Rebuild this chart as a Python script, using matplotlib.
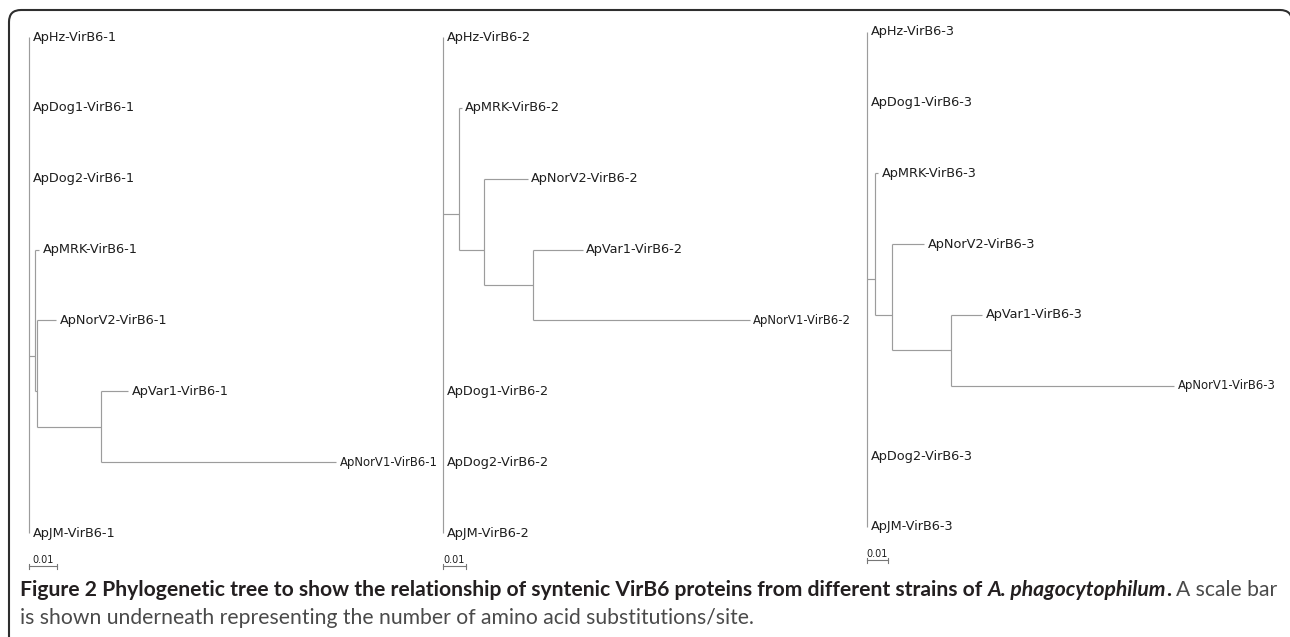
import numpy as np
import matplotlib
matplotlib.use("Agg")
import matplotlib.pyplot as plt
from matplotlib.path import Path
from matplotlib.patches import PathPatch

# ---- data: leaf order (top to bottom) and branches (parent, child, length in subs/site)
TREE1_LEAVES = ["ApHz-VirB6-1", "ApDog1-VirB6-1", "ApDog2-VirB6-1", "ApMRK-VirB6-1",
                "ApNorV2-VirB6-1", "ApVar1-VirB6-1", "ApNorV1-VirB6-1", "ApJM-VirB6-1"]
TREE1_EDGES = [
    ("root", "ApHz-VirB6-1", 0.0),
    ("root", "ApDog1-VirB6-1", 0.0),
    ("root", "ApDog2-VirB6-1", 0.0),
    ("root", "n1", 0.0021),
    ("n1", "ApMRK-VirB6-1", 0.0014),
    ("n1", "n2", 0.0007),
    ("n2", "ApNorV2-VirB6-1", 0.0068),
    ("n2", "n3", 0.0229),
    ("n3", "ApVar1-VirB6-1", 0.0096),
    ("n3", "ApNorV1-VirB6-1", 0.0839),
    ("root", "ApJM-VirB6-1", 0.0),
]

TREE2_LEAVES = ["ApHz-VirB6-2", "ApMRK-VirB6-2", "ApNorV2-VirB6-2", "ApVar1-VirB6-2",
                "ApNorV1-VirB6-2", "ApDog1-VirB6-2", "ApDog2-VirB6-2", "ApJM-VirB6-2"]
TREE2_EDGES = [
    ("root", "ApHz-VirB6-2", 0.0),
    ("root", "n1", 0.0070),
    ("n1", "ApMRK-VirB6-2", 0.0011),
    ("n1", "n2", 0.0109),
    ("n2", "ApNorV2-VirB6-2", 0.0189),
    ("n2", "n3", 0.0213),
    ("n3", "ApVar1-VirB6-2", 0.0215),
    ("n3", "ApNorV1-VirB6-2", 0.0941),
    ("root", "ApDog1-VirB6-2", 0.0),
    ("root", "ApDog2-VirB6-2", 0.0),
    ("root", "ApJM-VirB6-2", 0.0),
]

TREE3_LEAVES = ["ApHz-VirB6-3", "ApDog1-VirB6-3", "ApMRK-VirB6-3", "ApNorV2-VirB6-3",
                "ApVar1-VirB6-3", "ApNorV1-VirB6-3", "ApDog2-VirB6-3", "ApJM-VirB6-3"]
TREE3_EDGES = [
    ("root", "ApHz-VirB6-3", 0.0),
    ("root", "ApDog1-VirB6-3", 0.0),
    ("root", "n1", 0.0038),
    ("n1", "ApMRK-VirB6-3", 0.0014),
    ("n1", "n2", 0.0081),
    ("n2", "ApNorV2-VirB6-3", 0.0152),
    ("n2", "n3", 0.0281),
    ("n3", "ApVar1-VirB6-3", 0.0148),
    ("n3", "ApNorV1-VirB6-3", 0.1062),
    ("root", "ApDog2-VirB6-3", 0.0),
    ("root", "ApJM-VirB6-3", 0.0),
]

SCALE_LEN = 0.01
SCALE_LABEL = "0.01"

CAPTION_LINE1 = [
    ("Figure 2 Phylogenetic tree to show the relationship of syntenic VirB6 proteins from different strains of", "bold", "normal"),
    ("A. phagocytophilum", "bold", "italic"),
    (".", "bold", "normal"),
    ("A scale bar", "normal", "normal"),
]
CAPTION_LINE2 = "is shown underneath representing the number of amino acid substitutions/site."

# ---- layout (pixels)
W, H, DPI = 1290, 637, 100
LINE_C = "#9c9c9c"
TEXT_C = "#1e1e1e"

fig = plt.figure(figsize=(W / DPI, H / DPI), dpi=DPI)
fig.patch.set_facecolor("white")

base = fig.add_axes([0, 0, 1, 1])
base.set_xlim(0, W)
base.set_ylim(H, 0)
base.axis("off")

# rounded frame, open at bottom, right side just past the image edge
verts = [(9, H + 20), (9, 22), (9, 10), (21, 10), (1280, 10), (1292, 10), (1292, 22), (1292, H + 20)]
codes = [Path.MOVETO, Path.LINETO, Path.CURVE3, Path.CURVE3, Path.LINETO,
         Path.CURVE3, Path.CURVE3, Path.LINETO]
base.add_patch(PathPatch(Path(verts, codes), fill=False, ec="#2e2e2e", lw=1.5, clip_on=False))


def draw_tree(leaves, edges, root_px, px_per_unit, top_px, step_px):
    ax = fig.add_axes([0, 0, 1, 1])
    ax.set_xlim(-root_px / px_per_unit, (W - root_px) / px_per_unit)
    ax.set_ylim((H - top_px) / step_px, -top_px / step_px)
    ax.axis("off")
    ax.patch.set_alpha(0)

    children, length = {}, {}
    for p, c, l in edges:
        children.setdefault(p, []).append(c)
        length[c] = l
    xs = {"root": 0.0}
    stack = ["root"]
    while stack:
        n = stack.pop()
        for c in children.get(n, []):
            xs[c] = xs[n] + length[c]
            stack.append(c)

    def leaf_idx(n):
        if n in leaves:
            return [leaves.index(n)]
        return sum((leaf_idx(c) for c in children[n]), [])

    ys = {n: np.mean(leaf_idx(n)) for n in xs}

    for p, c, l in edges:
        ax.plot([xs[p], xs[c]], [ys[c], ys[c]], color=LINE_C, lw=0.85, solid_capstyle="butt")
    for p, kids in children.items():
        ky = [ys[k] for k in kids]
        ax.plot([xs[p], xs[p]], [min(ky), max(ky)], color=LINE_C, lw=0.85, solid_capstyle="butt")

    for name in leaves:
        size = 8.4 if "NorV1" in name else 9.3
        ax.annotate(name, (xs[name], ys[name]), xytext=(2.6, 0), textcoords="offset points",
                    ha="left", va="center", fontsize=size, color=TEXT_C,
                    family="DejaVu Sans", annotation_clip=False)

    # scale bar
    yb = len(leaves) - 1 + 0.47
    tk = 2.5 / step_px
    ax.plot([0, SCALE_LEN], [yb, yb], color="#777777", lw=0.8, clip_on=False)
    for xv in (0, SCALE_LEN):
        ax.plot([xv, xv], [yb - tk, yb + tk], color="#777777", lw=0.8, clip_on=False)
    ax.annotate(SCALE_LABEL, (SCALE_LEN / 2, yb), xytext=(0, 1.0), textcoords="offset points",
                ha="center", va="bottom", fontsize=7, color=TEXT_C, annotation_clip=False)


draw_tree(TREE1_LEAVES, TREE1_EDGES, 29, 2800, 37, 70.86)
draw_tree(TREE2_LEAVES, TREE2_EDGES, 443, 2300, 37, 70.86)
draw_tree(TREE3_LEAVES, TREE3_EDGES, 867, 2100, 32, 70.7)

# ---- caption, pieces laid out one after another
renderer = fig.canvas.get_renderer()
CAP_FONT = "Lato"
X0, X1 = 20, 1272


def width_of(t):
    return t.get_window_extent(renderer=renderer).width


def lay_line(pieces, y, size):
    texts = []
    x = X0
    for i, (s, wt, st) in enumerate(pieces):
        col = "#231f20" if wt == "bold" else "#4a4a4a"
        t = base.text(x, y, s, fontsize=size, fontweight=wt, fontstyle=st, family=CAP_FONT,
                      color=col, ha="left", va="baseline")
        texts.append(t)
        x += width_of(t)
        if i + 1 < len(pieces) and pieces[i + 1][0] != ".":
            probe1 = base.text(0, 0, "a a", fontsize=size, fontweight=wt, family=CAP_FONT)
            probe2 = base.text(0, 0, "aa", fontsize=size, fontweight=wt, family=CAP_FONT)
            x += width_of(probe1) - width_of(probe2)
            probe1.remove()
            probe2.remove()
    return texts, x - X0


texts, wtot = lay_line(CAPTION_LINE1, 596, 12)
for t in texts:
    t.remove()
cap_size = 12 * (X1 - X0) / wtot
lay_line(CAPTION_LINE1, 596, cap_size)
base.text(X0, 624, CAPTION_LINE2, fontsize=cap_size, family=CAP_FONT, color="#4a4a4a",
          ha="left", va="baseline")

fig.savefig("out.png", dpi=DPI)
